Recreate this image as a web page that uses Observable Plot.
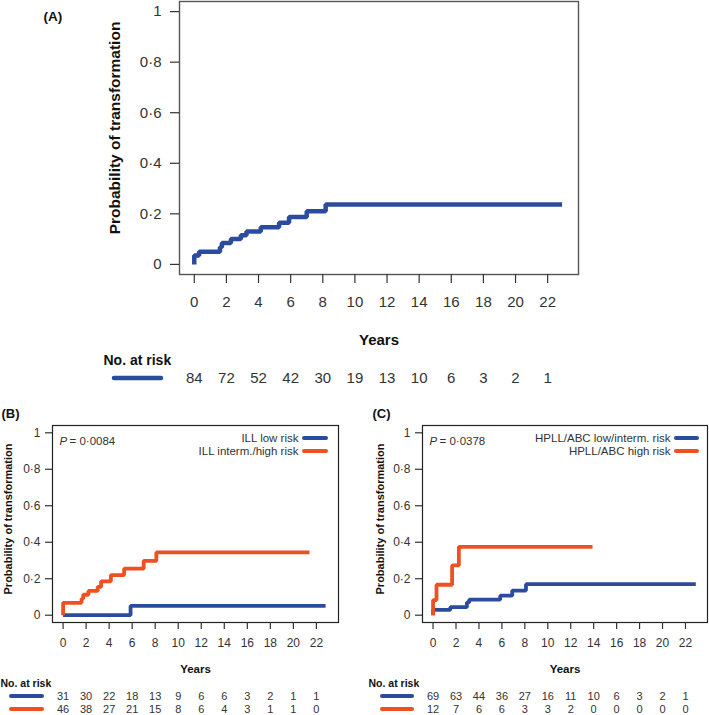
<!DOCTYPE html>
<html>
<head>
<meta charset="utf-8">
<script src="https://cdn.jsdelivr.net/npm/d3@7"></script>
<script src="https://cdn.jsdelivr.net/npm/@observablehq/plot@0.6"></script>
<style>
  html, body { margin: 0; padding: 0; background: #fff; }
  #fig { position: relative; width: 709px; height: 715px; background: #fff; overflow: hidden; }
</style>
</head>
<body>
<div id="fig"></div>
<script>
// ---------- data ----------
const xTicks = [0, 2, 4, 6, 8, 10, 12, 14, 16, 18, 20, 22];
const yTicks = [0, 0.2, 0.4, 0.6, 0.8, 1];
const riskTimes = [0, 2, 4, 6, 8, 10, 12, 14, 16, 18, 20, 22];

// Panel A: all patients
const timesA = [0, 0, 0.3, 1.6, 1.72, 2.28, 2.9, 3.25, 4.14, 5.28, 5.9, 7.0, 8.18, 22.9];
const probA  = [0, 0.035, 0.05, 0.068, 0.085, 0.10, 0.115, 0.13, 0.147, 0.165, 0.187, 0.21, 0.237, 0.237];
const riskA  = [84, 72, 52, 42, 30, 19, 13, 10, 6, 3, 2, 1];

// Panel B: ILL
const timesBlow  = [0, 5.86, 22.8];
const probBlow   = [0, 0.051, 0.051];
const timesBhigh = [0, 0, 1.6, 1.75, 2.2, 3.0, 3.3, 4.15, 5.3, 7.0, 8.1, 21.4];
const probBhigh  = [0, 0.068, 0.09, 0.112, 0.133, 0.155, 0.186, 0.22, 0.255, 0.298, 0.344, 0.344];
const riskBlow   = [31, 30, 22, 18, 13, 9, 6, 6, 3, 2, 1, 1];
const riskBhigh  = [46, 38, 27, 21, 15, 8, 6, 4, 3, 1, 1, 0];
const labelsB    = ["ILL low risk", "ILL interm./high risk"];
const pB = "0·0084";

// Panel C: HPLL/ABC
const timesClow  = [0, 0, 1.5, 2.95, 3.15, 5.85, 6.9, 8.1, 22.9];
const probClow   = [0, 0.029, 0.044, 0.07, 0.085, 0.107, 0.135, 0.17, 0.17];
const timesChigh = [0, 0, 0.3, 1.66, 2.25, 13.9];
const probChigh  = [0, 0.083, 0.167, 0.273, 0.375, 0.375];
const riskClow   = [69, 63, 44, 36, 27, 16, 11, 10, 6, 3, 2, 1];
const riskChigh  = [12, 7, 6, 6, 3, 3, 2, 0, 0, 0, 0, 0];
const labelsC    = ["HPLL/ABC low/interm. risk", "HPLL/ABC high risk"];
const pC = "0·0378";

// ---------- style ----------
const BLUE = "#2b4c9e", ORANGE = "#ef5022";
const FONT = "'Liberation Sans', Arial, sans-serif";
const fmtY = d => d === 0 ? "0" : d === 1 ? "1" : d.toFixed(1).replace(".", "·");
const pts = (T, P) => T.map((t, i) => ({t, p: P[i]}));
const XD = [-0.92, 23.92], YD = [-0.04, 1.04];

function addLine(svg, x1, x2, y, color, w) {
  d3.select(svg).append("line")
    .attr("x1", x1).attr("x2", x2).attr("y1", y).attr("y2", y)
    .attr("stroke", color).attr("stroke-width", w).attr("stroke-linecap", "round");
}

function makePanel(c) {
  const T = {fontFamily: FONT, lineAnchor: "middle"};
  const marks = [
    Plot.frame({stroke: c.frameColor, strokeWidth: c.frameWidth}),
    Plot.axisX(xTicks, {tickSize: c.tickSize, tickPadding: c.xPad, fontSize: c.tickFont, tickFormat: d => String(d), label: null, strokeWidth: 1.2}),
    Plot.axisY(yTicks, {tickSize: c.tickSize, tickPadding: c.yPad, fontSize: c.tickFont, tickFormat: fmtY, label: null, strokeWidth: 1.2}),
  ];
  c.series.forEach(s => marks.push(
    Plot.line(pts(s.t, s.p), {x: "t", y: "p", curve: "step-after", stroke: s.color, strokeWidth: c.lineWidth, strokeLinejoin: "miter", strokeLinecap: "butt"})
  ));
  // axis titles
  marks.push(Plot.text(["Probability of transformation"], {...T, frameAnchor: "left", textAnchor: "middle", dx: c.yLabDx, dy: c.yLabDy, rotate: -90, fontWeight: "bold", fontSize: c.yLabFont, fill: "#111"}));
  marks.push(Plot.text(["Years"], {...T, frameAnchor: "bottom", textAnchor: "middle", dy: c.yearsDy, fontWeight: "bold", fontSize: c.yearsFont, fill: "#111"}));
  marks.push(Plot.text(["No. at risk"], {...T, frameAnchor: "bottom-left", dx: c.narDx, dy: c.narDy, textAnchor: "start", fontWeight: "bold", fontSize: c.narFont, fill: "#111"}));
  marks.push(Plot.text([c.tag], {...T, frameAnchor: "top-left", dx: c.tagDx, dy: c.tagDy, textAnchor: "start", fontWeight: "bold", fontSize: c.tagFont, fill: "#111"}));
  // risk table numbers
  c.risks.forEach((r, k) => marks.push(
    Plot.text(r, {...T, x: (d, i) => riskTimes[i], text: d => String(d), frameAnchor: "bottom", textAnchor: "middle", dy: c.riskDy[k], fontSize: c.riskFont, fill: "#333"})
  ));
  // legend + p value
  if (c.legend) {
    c.legend.forEach((lab, k) => marks.push(
      Plot.text([lab], {...T, frameAnchor: "top-right", dx: c.legDx, dy: 13 + 13 * k, textAnchor: "end", fontSize: 11.5, fill: "#333"})
    ));
    marks.push(Plot.text(["P"], {...T, frameAnchor: "top-left", dx: 7, dy: 16, textAnchor: "start", fontSize: 11.5, fontStyle: "italic", fill: "#333"}));
    marks.push(Plot.text(["= " + c.pval], {...T, frameAnchor: "top-left", dx: 17, dy: 16, textAnchor: "start", fontSize: 11.5, fill: "#333"}));
  }
  const svg = Plot.plot({
    width: 709, height: 715,
    marginLeft: c.ml, marginRight: 709 - c.xr, marginTop: c.mt, marginBottom: 715 - c.yb,
    style: `position:absolute;left:0;top:0;background:transparent;overflow:visible;font-family:${FONT};color:#333;`,
    x: {domain: XD},
    y: {domain: YD},
    marks
  });
  // swatches
  c.riskSwatches.forEach(([x1, x2, y, col]) => addLine(svg, x1, x2, y, col, c.swW));
  (c.legSwatches || []).forEach(([x1, x2, y, col]) => addLine(svg, x1, x2, y, col, 4));
  return svg;
}

const fig = document.getElementById("fig");

// Panel A
fig.appendChild(makePanel({
  ml: 179, xr: 578, mt: 1, yb: 274,
  frameColor: "#555", frameWidth: 1.4,
  tickSize: 9, xPad: 13, yPad: 9, tickFont: 15,
  lineWidth: 4.5,
  series: [{t: timesA, p: probA, color: BLUE}],
  yLabDx: -64, yLabDy: -10, yLabFont: 15.5,
  yearsDy: 66, yearsFont: 15,
  narDx: -76, narDy: 86, narFont: 14,
  tag: "(A)", tagDx: -136, tagDy: 15, tagFont: 13.5,
  risks: [riskA], riskDy: [104], riskFont: 15,
  riskSwatches: [[114, 161, 378, BLUE]], swW: 4.5
}));

// Panel B
fig.appendChild(makePanel({
  ml: 52, xr: 338, mt: 425, yb: 622,
  frameColor: "#222", frameWidth: 1.2,
  tickSize: 7, xPad: 9, yPad: 5, tickFont: 12,
  lineWidth: 3.8,
  series: [{t: timesBlow, p: probBlow, color: BLUE}, {t: timesBhigh, p: probBhigh, color: ORANGE}],
  yLabDx: -44, yLabDy: -5, yLabFont: 11,
  yearsDy: 47, yearsFont: 11.5,
  narDx: -52, narDy: 61, narFont: 10.5,
  tag: "(B)", tagDx: -51, tagDy: -12, tagFont: 13,
  risks: [riskBlow, riskBhigh], riskDy: [74, 87], riskFont: 11,
  riskSwatches: [[11, 42, 696, BLUE], [11, 42, 709, ORANGE]], swW: 4,
  legend: labelsB, legDx: -40, pval: pB,
  legSwatches: [[304, 326, 438, BLUE], [304, 326, 451, ORANGE]]
}));

// Panel C
fig.appendChild(makePanel({
  ml: 422, xr: 707, mt: 425, yb: 622,
  frameColor: "#222", frameWidth: 1.2,
  tickSize: 7, xPad: 9, yPad: 5, tickFont: 12,
  lineWidth: 3.8,
  series: [{t: timesClow, p: probClow, color: BLUE}, {t: timesChigh, p: probChigh, color: ORANGE}],
  yLabDx: -42, yLabDy: -5, yLabFont: 11,
  yearsDy: 47, yearsFont: 11.5,
  narDx: -54, narDy: 61, narFont: 10.5,
  tag: "(C)", tagDx: -50, tagDy: -12, tagFont: 13,
  risks: [riskClow, riskChigh], riskDy: [74, 87], riskFont: 11,
  riskSwatches: [[382, 412, 696, BLUE], [382, 412, 709, ORANGE]], swW: 4,
  legend: labelsC, legDx: -37, pval: pC,
  legSwatches: [[676, 697, 438, BLUE], [676, 697, 451, ORANGE]]
}));
</script>
</body>
</html>
